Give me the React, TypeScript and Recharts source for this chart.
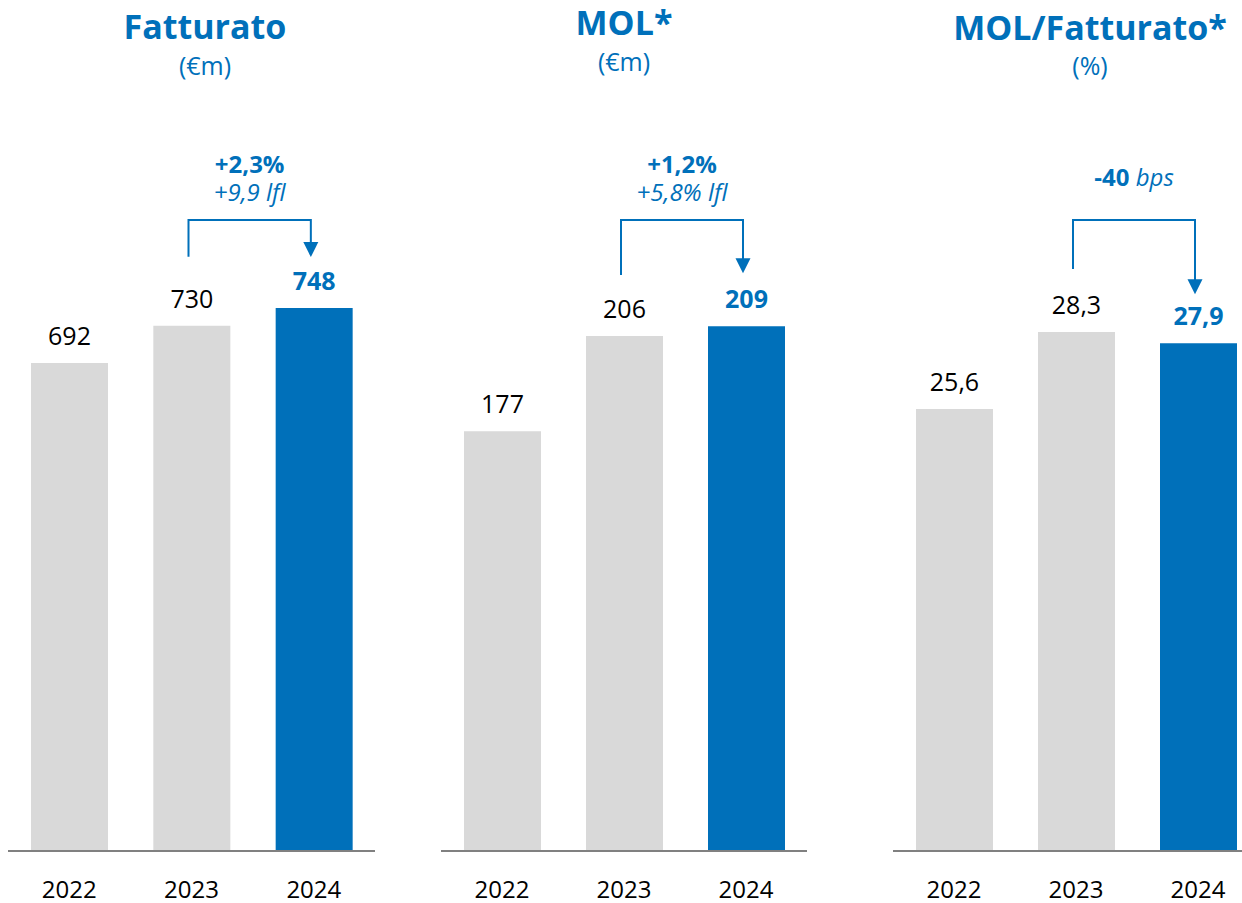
import { BarChart, Bar, XAxis, YAxis, Cell, LabelList, ReferenceLine } from "recharts";

const years = ["2022", "2023", "2024"];
const fatturato = [692, 730, 748];
const mol = [177, 206, 209];
const molMargin = [25.6, 28.3, 27.9];

const BLUE = "#0070BA";
const GREY = "#D9D9D9";
const FONT = "'Open Sans', 'Noto Sans', sans-serif";
const BRACKET_TOP = 220;

const panels = [
  {
    title: "Fatturato", unit: "(€m)", values: fatturato, decimals: 0,
    domain: [195, 960], left: 8, width: 367,
    titleX: 205, titleY: 39, unitY: 75,
    main: "+2,3%", sub: "+9,9 lfl", gapL: 69, gapR: 51,
  },
  {
    title: "MOL*", unit: "(€m)", values: mol, decimals: 0,
    domain: [49, 278], left: 441, width: 366,
    titleX: 624, titleY: 35, unitY: 71,
    main: "+1,2%", sub: "+5,8% lfl", gapL: 61, gapR: 53,
  },
  {
    title: "MOL/Fatturato*", unit: "(%)", values: molMargin, decimals: 1,
    domain: [10.1, 36.43], left: 893, width: 366,
    titleX: 1090, titleY: 40, unitY: 75,
    main: "-40", sub: " bps", gapL: 63, gapR: 49,
  },
];

type PanelCfg = (typeof panels)[number];

function fmt(v: number, decimals: number) {
  return v.toFixed(decimals).replace(".", ",");
}

// bracket + arrow from the 2023 bar to the 2024 bar, with the delta text above
function bracket(p: any, cfg: PanelCfg) {
  const lx = p.x1 - 3;
  const rx = p.x2 - 3;
  const yl = p.y1 - cfg.gapL;
  const tip = p.y2 - cfg.gapR;
  const mid = (lx + rx) / 2;
  const single = cfg.decimals === 1;
  return (
    <g>
      <polyline
        points={`${lx},${yl} ${lx},${BRACKET_TOP} ${rx},${BRACKET_TOP} ${rx},${tip - 14}`}
        fill="none"
        stroke={BLUE}
        strokeWidth={2}
      />
      <polygon points={`${rx - 7.5},${tip - 15} ${rx + 7.5},${tip - 15} ${rx},${tip}`} fill={BLUE} />
      {single ? (
        <text x={mid} y={186} textAnchor="middle" fill={BLUE} fontSize={24} fontFamily={FONT}>
          <tspan fontWeight={700}>{cfg.main}</tspan>
          <tspan fontStyle="italic">{cfg.sub}</tspan>
        </text>
      ) : (
        <g>
          <text x={mid} y={173} textAnchor="middle" fill={BLUE} fontSize={24} fontWeight={700} fontFamily={FONT}>
            {cfg.main}
          </text>
          <text x={mid} y={201} textAnchor="middle" fill={BLUE} fontSize={24} fontStyle="italic" fontFamily={FONT}>
            {cfg.sub}
          </text>
        </g>
      )}
    </g>
  );
}

function Panel({ cfg }: { cfg: PanelCfg }) {
  const data = years.map((year, i) => ({ year, value: cfg.values[i] }));
  const last = data.length - 1;
  return (
    <div style={{ position: "absolute", left: cfg.left, top: 0 }}>
      <BarChart width={cfg.width} height={903} data={data} margin={{ top: 100, right: 0, bottom: 0, left: 0 }}>
        <XAxis
          dataKey="year"
          height={52}
          axisLine={{ stroke: "#808080", strokeWidth: 2 }}
          tickLine={false}
          tickSize={0}
          tickMargin={30}
          tick={{ fill: "#000", fontSize: 24, fontFamily: FONT }}
        />
        <YAxis hide domain={cfg.domain} allowDataOverflow />
        <Bar dataKey="value" barSize={77} isAnimationActive={false}>
          {data.map((d, i) => (
            <Cell key={d.year} fill={i === last ? BLUE : GREY} />
          ))}
          <LabelList
            dataKey="value"
            content={(p: any) => (
              <text
                x={p.x + p.width / 2}
                y={p.y - 18}
                textAnchor="middle"
                fontSize={25}
                fontFamily={FONT}
                fontWeight={p.index === last ? 700 : 400}
                fill={p.index === last ? BLUE : "#000"}
              >
                {fmt(p.value, cfg.decimals)}
              </text>
            )}
          />
        </Bar>
        <ReferenceLine
          ifOverflow="visible"
          segment={[
            { x: years[1], y: cfg.values[1] },
            { x: years[2], y: cfg.values[2] },
          ]}
          shape={(p: any) => bracket(p, cfg)}
        />
      </BarChart>
    </div>
  );
}

export default function App() {
  return (
    <div
      style={{
        position: "absolute",
        left: 0,
        top: 0,
        width: 1242,
        height: 903,
        overflow: "hidden",
        background: "#fff",
      }}
    >
      {panels.map((cfg) => (
        <Panel key={cfg.title} cfg={cfg} />
      ))}
      <svg width={1242} height={903} style={{ position: "absolute", left: 0, top: 0, pointerEvents: "none" }}>
        {panels.map((cfg) => (
          <g key={cfg.title} fill={BLUE} fontFamily={FONT} textAnchor="middle">
            <text x={cfg.titleX} y={cfg.titleY} fontSize={34} fontWeight={700}>
              {cfg.title}
            </text>
            <text x={cfg.titleX} y={cfg.unitY} fontSize={25}>
              {cfg.unit}
            </text>
          </g>
        ))}
      </svg>
    </div>
  );
}
